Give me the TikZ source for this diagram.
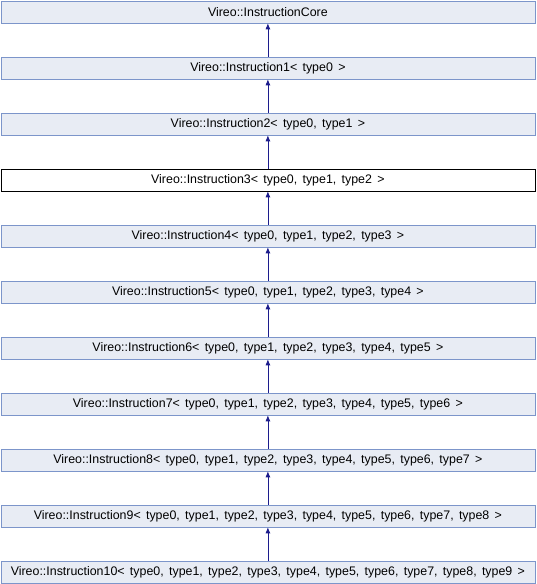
\documentclass[tikz,border=0pt]{standalone}
\usepackage{fontspec}
\setmainfont{Liberation Sans}[WordSpace=1.55]
\usetikzlibrary{arrows.meta}
\definecolor{classfill}{HTML}{E8ECF4}
\definecolor{classedge}{HTML}{7C95CA}
\definecolor{inherit}{HTML}{1C1C8C}
\tikzset{
  cls/.style={draw=classedge, fill=classfill, line width=0.8pt, minimum width=534pt,
    minimum height=22pt, inner sep=0pt, font=\fontsize{12.4}{14}\selectfont, anchor=north west},
  current/.style={cls, draw=black, fill=white},
  derive/.style={draw=inherit, line width=0.8pt, -{Latex[length=6pt,width=5pt]}}
}
\begin{document}
\begin{tikzpicture}[x=1pt,y=-1pt]
\useasboundingbox (0,0) rectangle (536,584);
\node[cls] (c1) at (0.5,0.5) {Vireo::InstructionCore};
\node[cls] (c2) at (0.5,56.5) {Vireo::Instruction1< type0 >};
\node[cls] (c3) at (0.5,112.5) {Vireo::Instruction2< type0, type1 >};
\node[current] (c4) at (0.5,168.5) {Vireo::Instruction3< type0, type1, type2 >};
\node[cls] (c5) at (0.5,224.5) {Vireo::Instruction4< type0, type1, type2, type3 >};
\node[cls] (c6) at (0.5,280.5) {Vireo::Instruction5< type0, type1, type2, type3, type4 >};
\node[cls] (c7) at (0.5,336.5) {Vireo::Instruction6< type0, type1, type2, type3, type4, type5 >};
\node[cls] (c8) at (0.5,392.5) {Vireo::Instruction7< type0, type1, type2, type3, type4, type5, type6 >};
\node[cls] (c9) at (0.5,448.5) {Vireo::Instruction8< type0, type1, type2, type3, type4, type5, type6, type7 >};
\node[cls] (c10) at (0.5,504.5) {Vireo::Instruction9< type0, type1, type2, type3, type4, type5, type6, type7, type8 >};
\node[cls] (c11) at (0.5,560.5) {Vireo::Instruction10< type0, type1, type2, type3, type4, type5, type6, type7, type8, type9 >};
\foreach \a/\b in {c2/c1,c3/c2,c4/c3,c5/c4,c6/c5,c7/c6,c8/c7,c9/c8,c10/c9,c11/c10}
  \draw[derive] (\a.north) -- (\b.south);
\end{tikzpicture}
\end{document}
